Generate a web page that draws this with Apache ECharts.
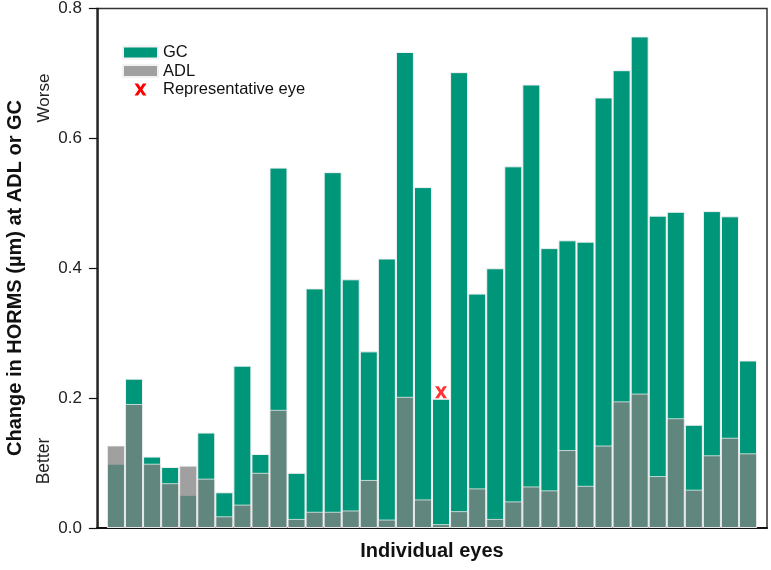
<!DOCTYPE html>
<html>
<head>
<meta charset="utf-8">
<script src="https://cdn.jsdelivr.net/npm/echarts@6/dist/echarts.min.js"></script>
<style>
html,body{margin:0;padding:0;background:#fff;}
#chart{width:771px;height:570px;}
</style>
</head>
<body>
<div id="chart"></div>
<script>
// Individual eyes (1..36)
const eyes = [1,2,3,4,5,6,7,8,9,10,11,12,13,14,15,16,17,18,19,20,21,22,23,24,25,26,27,28,29,30,31,32,33,34,35,36];
// Change in HORMS (µm) at GC
const gcValues = [0.099,0.230,0.110,0.094,0.051,0.147,0.055,0.250,0.114,0.555,0.085,0.369,0.548,0.383,0.272,0.415,0.733,0.525,0.199,0.702,0.361,0.400,0.557,0.683,0.431,0.443,0.441,0.663,0.705,0.757,0.481,0.487,0.159,0.488,0.480,0.258];
// Change in HORMS (µm) at ADL
const adlValues = [0.127,0.191,0.099,0.069,0.096,0.076,0.018,0.036,0.085,0.182,0.014,0.025,0.025,0.027,0.074,0.013,0.202,0.044,0.006,0.026,0.061,0.014,0.041,0.064,0.058,0.120,0.065,0.127,0.195,0.207,0.080,0.169,0.059,0.112,0.139,0.115];
// Representative eye marker
const repEye = [[19, 0.209]];
const yTicks = [0.0, 0.2, 0.4, 0.6, 0.8];

const FONT = '"Liberation Sans", Arial, sans-serif';
const X_PATH = 'path://M0,0 L3,0 L5,3.2 L7,0 L10,0 L6.6,5 L10,10 L7,10 L5,6.8 L3,10 L0,10 L3.4,5 Z';

const chart = echarts.init(document.getElementById('chart'), null, {renderer: 'canvas'});
chart.setOption({
  animation: false,
  backgroundColor: '#fff',
  textStyle: {fontFamily: FONT},
  grid: {left: 97, right: 4, top: 8, bottom: 42, show: true, borderColor: '#333', borderWidth: 1.5, backgroundColor: 'transparent'},
  legend: {
    left: 117, top: 39, orient: 'vertical', itemWidth: 35, itemHeight: 12, itemGap: 1.5,
    textStyle: {fontFamily: FONT, fontSize: 16.5, color: '#111'},
    data: [
      {name: 'GC', icon: 'rect', itemStyle: {color: '#00967a', opacity: 1}},
      {name: 'ADL', icon: 'rect', itemStyle: {color: '#a0a0a0', opacity: 1}},
      {name: 'Representative eye', icon: X_PATH, itemStyle: {color: '#ff0000', opacity: 1}}
    ]
  },
  xAxis: {
    type: 'value', min: -0.05, max: 37.05,
    axisLine: {show: true, lineStyle: {color: '#111', width: 2}},
    axisTick: {show: false}, axisLabel: {show: false}, splitLine: {show: false},
    name: 'Individual eyes', nameLocation: 'middle', nameGap: 13,
    nameTextStyle: {fontFamily: FONT, fontSize: 20, fontWeight: 'bold', color: '#111'}
  },
  yAxis: {
    type: 'value', min: 0, max: 0.8, interval: 0.2,
    axisLine: {show: true, lineStyle: {color: '#111', width: 1.5}},
    axisTick: {show: true, inside: false, length: 9, lineStyle: {color: '#111', width: 1.2}},
    axisLabel: {fontFamily: FONT, fontSize: 17, color: '#222', margin: 15, formatter: v => v.toFixed(1)},
    splitLine: {show: false}
  },
  graphic: [
    {type: 'text', x: 15, y: 278, rotation: Math.PI / 2,
     style: {text: 'Change in HORMS (µm) at ADL or GC', font: 'bold 20px ' + FONT, fill: '#111', align: 'center', verticalAlign: 'middle'}},
    {type: 'text', x: 44, y: 98, rotation: Math.PI / 2,
     style: {text: 'Worse', font: '17px ' + FONT, fill: '#222', align: 'center', verticalAlign: 'middle'}},
    {type: 'text', x: 44, y: 461, rotation: Math.PI / 2,
     style: {text: 'Better', font: '17.5px ' + FONT, fill: '#222', align: 'center', verticalAlign: 'middle'}}
  ],
  series: [
    {
      name: 'GC', type: 'bar', barWidth: 18, barGap: '-100%',
      data: eyes.map((e, i) => [e, gcValues[i]]),
      itemStyle: {color: '#00967a', borderColor: '#f2f2f2', borderWidth: 1},
      z: 2
    },
    {
      name: 'ADL', type: 'bar', barWidth: 18, barGap: '-100%',
      data: eyes.map((e, i) => [e, adlValues[i]]),
      itemStyle: {color: '#808080', opacity: 0.75, borderColor: '#f2f2f2', borderWidth: 1},
      z: 3
    },
    {
      name: 'Representative eye', type: 'scatter', symbol: X_PATH, symbolSize: [12, 12], symbolKeepAspect: true,
      data: repEye, itemStyle: {color: '#ff0000'}, z: 5
    }
  ]
});
</script>
</body>
</html>
